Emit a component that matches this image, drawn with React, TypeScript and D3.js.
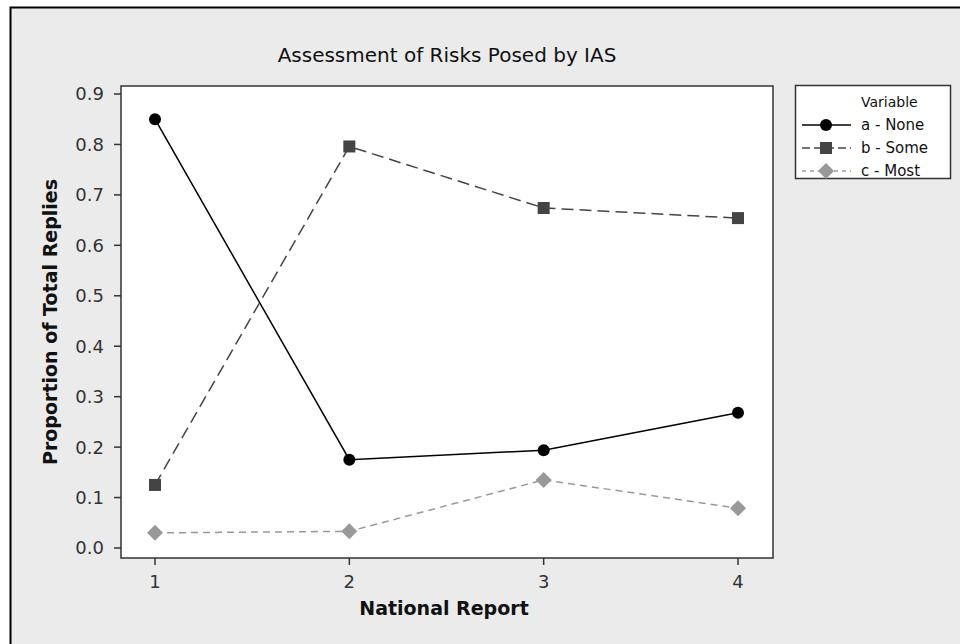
import React from 'react';
import * as d3 from 'd3';

// National report number on x
const reports = [1, 2, 3, 4];
const noneValues = [0.85, 0.175, 0.194, 0.268];
const someValues = [0.125, 0.796, 0.674, 0.654];
const mostValues = [0.03, 0.033, 0.135, 0.079];
const yTicks = [0, 0.1, 0.2, 0.3, 0.4, 0.5, 0.6, 0.7, 0.8, 0.9];

const series = [
  { key: 'a', label: 'a - None', values: noneValues, color: '#000', dash: '', legendDash: '', shape: 'circle' },
  { key: 'b', label: 'b - Some', values: someValues, color: '#444', dash: '12 6', legendDash: '8 4', shape: 'square' },
  { key: 'c', label: 'c - Most', values: mostValues, color: '#999', dash: '7 5', legendDash: '4 4', shape: 'diamond' },
];

const W = 960;
const H = 644;
const plot = { left: 121, right: 773, top: 86, bottom: 558 };
const font = 'Tahoma, "DejaVu Sans", sans-serif';

const Marker: React.FC<{ shape: string; x: number; y: number; color: string }> = ({ shape, x, y, color }) => {
  if (shape === 'circle') return <circle cx={x} cy={y} r={6} fill={color} />;
  if (shape === 'square') return <rect x={x - 6} y={y - 6} width={12} height={12} fill={color} />;
  return <path d={`M${x},${y - 8}L${x + 8},${y}L${x},${y + 8}L${x - 8},${y}Z`} fill={color} />;
};

const App: React.FC = () => {
  const x = d3.scaleLinear().domain([1, 4]).range([155, 738]);
  const y = d3.scaleLinear().domain([0, 0.9]).range([548, 94]);
  const line = d3.line<number>().x((_, i) => x(reports[i])).y(d => y(d));

  return (
    <svg width={W} height={H} style={{ position: 'absolute', left: 0, top: 0 }} fontFamily={font}>
      <rect x={0} y={0} width={W} height={H} fill="#fff" />
      <rect x={10.5} y={7.5} width={W} height={H} fill="#ebebeb" stroke="#000" strokeWidth={2} />

      <text x={447} y={62} textAnchor="middle" fontSize={20} fill="#111">
        Assessment of Risks Posed by IAS
      </text>

      <rect x={plot.left} y={plot.top} width={plot.right - plot.left} height={plot.bottom - plot.top}
        fill="#fff" stroke="#333" strokeWidth={1.5} />

      {/* y axis */}
      {yTicks.map(t => (
        <g key={t}>
          <line x1={plot.left - 7} x2={plot.left} y1={y(t)} y2={y(t)} stroke="#333" strokeWidth={1.5} />
          <text x={plot.left - 17} y={y(t)} dy="0.36em" textAnchor="end" fontSize={18} fill="#333">
            {d3.format('.1f')(t)}
          </text>
        </g>
      ))}
      {/* x axis */}
      {reports.map(r => (
        <g key={r}>
          <line x1={x(r)} x2={x(r)} y1={plot.bottom} y2={plot.bottom + 7} stroke="#333" strokeWidth={1.5} />
          <text x={x(r)} y={588} textAnchor="middle" fontSize={18} fill="#333">{r}</text>
        </g>
      ))}

      <text x={444} y={615} textAnchor="middle" fontSize={19} fontWeight="bold" fill="#111">National Report</text>
      <text transform={`translate(57,${(plot.top + plot.bottom) / 2}) rotate(-90)`} textAnchor="middle"
        fontSize={19} fontWeight="bold" fill="#111">Proportion of Total Replies</text>

      {series.map(s => (
        <g key={s.key}>
          <path d={line(s.values) || ''} fill="none" stroke={s.color} strokeWidth={1.5} strokeDasharray={s.dash} />
          {s.values.map((v, i) => (
            <Marker key={i} shape={s.shape} x={x(reports[i])} y={y(v)} color={s.color} />
          ))}
        </g>
      ))}

      {/* legend */}
      <rect x={795.5} y={85.5} width={155} height={93} fill="#fff" stroke="#333" strokeWidth={1.5} />
      <text x={861} y={107} fontSize={14} fill="#111">Variable</text>
      {series.map((s, i) => {
        const ly = 125 + i * 23;
        return (
          <g key={s.key}>
            <line x1={802} x2={851} y1={ly} y2={ly} stroke={s.color} strokeWidth={1.5} strokeDasharray={s.legendDash} />
            <Marker shape={s.shape} x={826} y={ly} color={s.color} />
            <text x={861} y={ly} dy="0.35em" fontSize={15} fill="#111">{s.label}</text>
          </g>
        );
      })}
    </svg>
  );
};

export default App;
